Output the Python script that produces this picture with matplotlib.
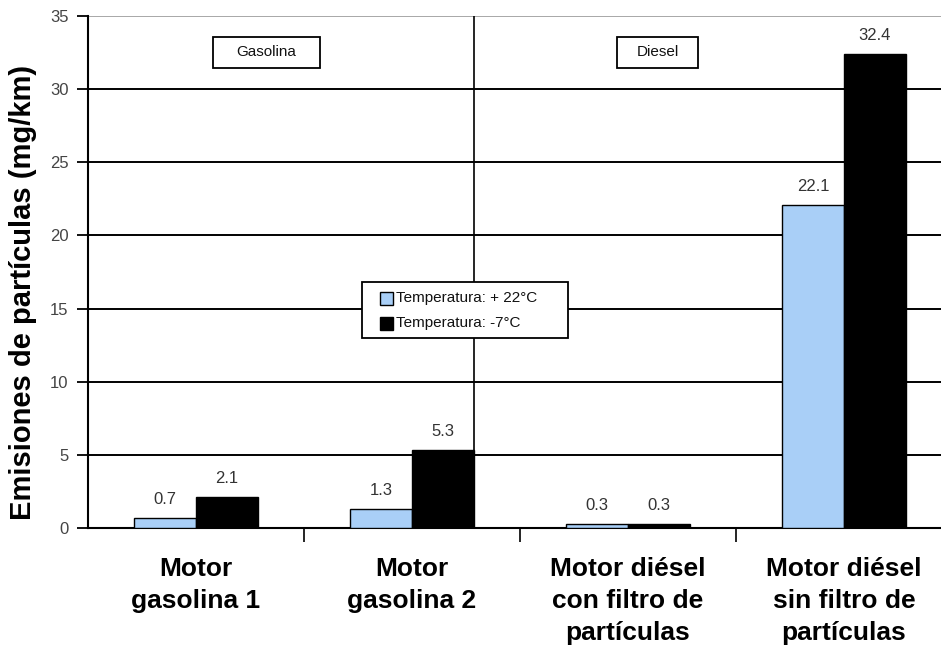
import matplotlib
matplotlib.use("Agg")
import matplotlib.pyplot as plt
import numpy as np
from matplotlib.patches import Rectangle

plt.rcParams["font.family"] = ["Liberation Sans", "DejaVu Sans"]

categories = ["Motor\ngasolina 1", "Motor\ngasolina 2",
              "Motor diésel\ncon filtro de\npartículas",
              "Motor diésel\nsin filtro de\npartículas"]
warm = [0.7, 1.3, 0.3, 22.1]      # Temperatura: + 22°C
cold = [2.1, 5.3, 0.3, 32.4]      # Temperatura: -7°C
series_names = ["Temperatura: + 22°C", "Temperatura: -7°C"]
groups = ["Gasolina", "Diesel"]
yticks = [0, 5, 10, 15, 20, 25, 30, 35]

blue = "#a9cff7"
W, H = 941, 648
fig = plt.figure(figsize=(W / 100, H / 100), dpi=100)
ax = fig.add_axes([88 / W, 1 - 528 / H, 1 - 88 / W, (528 - 16) / H])

pos = np.arange(len(categories)) + 0.5
bw = 0.287
ax.bar(pos - bw / 2, warm, bw, color=blue, edgecolor="black", linewidth=1.0, zorder=3)
ax.bar(pos + bw / 2, cold, bw, color="black", edgecolor="black", linewidth=1.0, zorder=3)

for xs, vals in ((pos - bw / 2, warm), (pos + bw / 2, cold)):
    for x, v in zip(xs, vals):
        ax.text(x, v + 0.75, f"{v:g}", ha="center", va="bottom", fontsize=12,
                color="#333333")

ax.set_xlim(0, (W - 88) / 216)
ax.set_ylim(0, 35)

# horizontal grid
for y in yticks[1:-1]:
    ax.axhline(y, color="black", linewidth=1.4, zorder=1)
ax.axhline(35, color="#999999", linewidth=1.2, zorder=1)

# separator between petrol and diesel groups
xsep = pos[1] + bw
ax.plot([xsep, xsep], [cold[1], 35], color="black", linewidth=1.2, zorder=1)

for s in ["top", "right"]:
    ax.spines[s].set_visible(False)
ax.spines["left"].set_linewidth(1.5)
ax.spines["bottom"].set_linewidth(1.5)

ax.set_yticks(yticks)
ax.set_yticklabels([str(t) for t in yticks], fontsize=12, color="#444444")
ax.tick_params(axis="y", direction="out", length=8, width=1.3, pad=6)

ax.set_xticks([1, 2, 3])
ax.set_xticklabels([])
ax.tick_params(axis="x", direction="out", length=10, width=1.2)
for p, lab in zip(pos, categories):
    ax.text(p, -2.0, lab, ha="center", va="top", fontsize=19, fontweight="bold",
            linespacing=1.42, clip_on=False)

ax.set_ylabel("Emisiones de partículas (mg/km)", fontsize=21, fontweight="bold")
ax.yaxis.set_label_coords((37 - 88) / (W - 88), (528 - 292) / 512)

# group captions (pixel boxes converted to figure fractions)
def fig_rect(x0, y0, x1, y1):
    return Rectangle((x0 / W, 1 - y1 / H), (x1 - x0) / W, (y1 - y0) / H,
                     transform=fig.transFigure, facecolor="white",
                     edgecolor="black", linewidth=1.3, zorder=6)

for name, (x0, x1) in zip(groups, [(213, 320), (617, 698)]):
    fig.add_artist(fig_rect(x0, 37, x1, 68))
    fig.text((x0 + x1) / 2 / W, 1 - 52 / H, name, ha="center", va="center",
             fontsize=11, color="#111111", zorder=7)

# legend
fig.add_artist(fig_rect(362, 282, 568, 338))
for (yc, name, col) in zip([298, 323], series_names, [blue, "black"]):
    sq = Rectangle((380 / W, 1 - (yc + 6.5) / H), 13 / W, 13 / H,
                   transform=fig.transFigure, facecolor=col, edgecolor="black",
                   linewidth=1.0, zorder=7)
    fig.add_artist(sq)
    fig.text(396 / W, 1 - yc / H, name, ha="left", va="center", fontsize=11,
             color="#111111", zorder=7)

fig.savefig("out.png", dpi=100)
